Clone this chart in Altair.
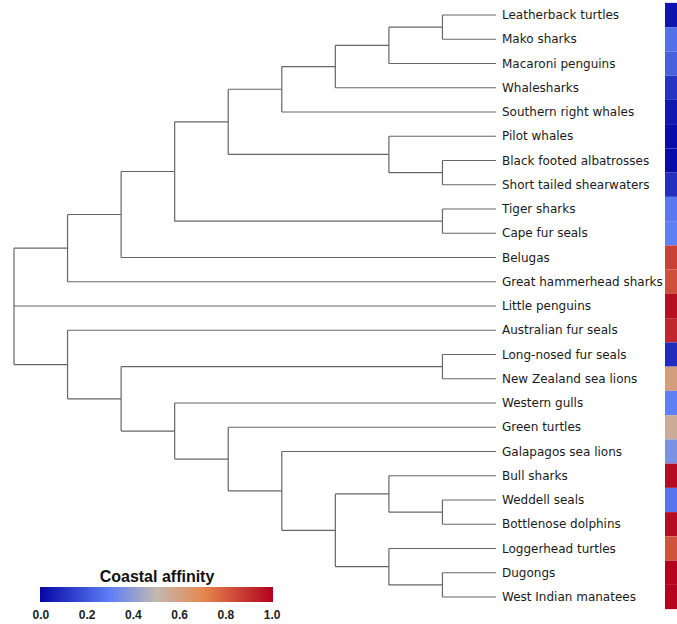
import altair as alt
import pandas as pd

# ---- data ----
leaves = [
    "Leatherback turtles", "Mako sharks", "Macaroni penguins", "Whalesharks",
    "Southern right whales", "Pilot whales", "Black footed albatrosses",
    "Short tailed shearwaters", "Tiger sharks", "Cape fur seals", "Belugas",
    "Great hammerhead sharks", "Little penguins", "Australian fur seals",
    "Long-nosed fur seals", "New Zealand sea lions", "Western gulls",
    "Green turtles", "Galapagos sea lions", "Bull sharks", "Weddell seals",
    "Bottlenose dolphins", "Loggerhead turtles", "Dugongs", "West Indian manatees",
]
coastal = [0.03, 0.26, 0.22, 0.11, 0.04, 0.01, 0.01, 0.10, 0.28, 0.30, 0.86,
           0.83, 0.97, 0.92, 0.09, 0.61, 0.30, 0.55, 0.36, 0.98, 0.27, 0.98,
           0.82, 1.00, 1.00]

# merge nodes: children (leaf names or node ids "nK") and merge level
node_children = [
    ["Leatherback turtles", "Mako sharks"],            # n0
    ["n0", "Macaroni penguins"],                       # n1
    ["n1", "Whalesharks"],                             # n2
    ["n2", "Southern right whales"],                   # n3
    ["Black footed albatrosses", "Short tailed shearwaters"],  # n4
    ["Pilot whales", "n4"],                            # n5
    ["n3", "n5"],                                      # n6
    ["Tiger sharks", "Cape fur seals"],                # n7
    ["n6", "n7"],                                      # n8
    ["n8", "Belugas"],                                 # n9
    ["n9", "Great hammerhead sharks"],                 # n10
    ["Long-nosed fur seals", "New Zealand sea lions"], # n11
    ["Weddell seals", "Bottlenose dolphins"],          # n12
    ["Bull sharks", "n12"],                            # n13
    ["Dugongs", "West Indian manatees"],               # n14
    ["Loggerhead turtles", "n14"],                     # n15
    ["n13", "n15"],                                    # n16
    ["Galapagos sea lions", "n16"],                    # n17
    ["Green turtles", "n17"],                          # n18
    ["Western gulls", "n18"],                          # n19
    ["n11", "n19"],                                    # n20
    ["Australian fur seals", "n20"],                   # n21
    ["n10", "Little penguins", "n21"],                 # n22 (root)
]
node_level = [1, 2, 3, 4, 1, 2, 5, 1, 6, 7, 8, 1, 1, 2, 1, 2, 3, 4, 5, 6, 7, 8, 9]

cmap_stops = [-0.004, 0.3, 0.5, 0.7, 1.004]
cmap_colors = ["#0505a6", "#5f80f6", "#c2b8b0", "#e5894f", "#b3001e"]
legend_ticks = [0.0, 0.2, 0.4, 0.6, 0.8, 1.0]

# ---- build dendrogram segments from tree ----
pos = {name: float(i) for i, name in enumerate(leaves)}
lvl = {name: 0.0 for name in leaves}
segs = []
for k, (ch, h) in enumerate(zip(node_children, node_level)):
    ys = [pos[c] for c in ch]
    for c in ch:
        segs.append({"x": lvl[c], "x2": float(h), "y": pos[c], "y2": pos[c]})
    segs.append({"x": float(h), "x2": float(h), "y": min(ys), "y2": max(ys)})
    nid = f"n{k}"
    pos[nid] = (min(ys) + max(ys)) / 2
    lvl[nid] = float(h)
seg_df = pd.DataFrame(segs)

leaf_df = pd.DataFrame({
    "name": leaves,
    "idx": list(range(len(leaves))),
    "lo": [i - 0.5 for i in range(len(leaves))],
    "hi": [i + 0.5 for i in range(len(leaves))],
    "coastal": coastal,
    "zero": [0.0] * len(leaves),
})

W, H = 677, 624
xscale = alt.Scale(domain=[-3.3795, 9.2614], reverse=True, nice=False, zero=False)
yscale = alt.Scale(domain=[-0.6186, 25.113], reverse=True, nice=False, zero=False)

lines = alt.Chart(seg_df).mark_rule(color="#666666", strokeWidth=1.2).encode(
    x=alt.X("x:Q", scale=xscale, axis=None),
    x2="x2",
    y=alt.Y("y:Q", scale=yscale, axis=None),
    y2="y2",
)

labels = alt.Chart(leaf_df).mark_text(
    align="left", baseline="middle", dx=6, font="DejaVu Sans", fontSize=12,
    color="#1a1a1a",
).encode(
    x=alt.X("zero:Q", scale=xscale, axis=None),
    y=alt.Y("idx:Q", scale=yscale, axis=None),
    text="name:N",
)

heat = alt.Chart(leaf_df).mark_rect().encode(
    x=alt.value(665),
    x2=alt.value(W),
    y=alt.Y("lo:Q", scale=yscale, axis=None),
    y2="hi",
    color=alt.Color(
        "coastal:Q",
        scale=alt.Scale(domain=cmap_stops, range=cmap_colors, interpolate="rgb"),
        legend=alt.Legend(
            orient="none", legendX=40, legendY=569, direction="horizontal",
            gradientLength=233, gradientThickness=15, gradientStrokeWidth=0,
            title="Coastal affinity", titleOrient="top", titleAnchor="middle",
            titleFont="Liberation Sans", titleFontSize=16, titleFontWeight="bold",
            titleColor="#111", titlePadding=2,
            labelFont="Liberation Sans", labelFontSize=12, labelFontWeight="bold",
            labelColor="#222", values=legend_ticks, format=".1f",
            labelOverlap=False, labelOffset=8, padding=0,
        ),
    ),
)

chart = alt.layer(lines, labels, heat).properties(
    width=W, height=H, autosize=alt.AutoSizeParams(type="none"), padding=0,
    background="white",
).configure_view(stroke=None)

chart.save("out.html", embed_options={"renderer": "svg", "actions": False})
